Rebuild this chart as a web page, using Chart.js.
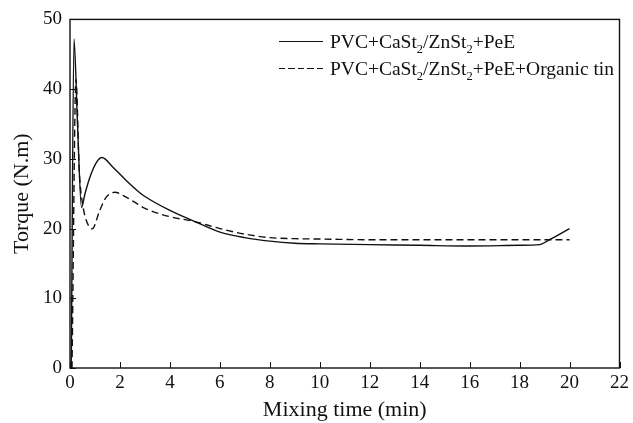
<!DOCTYPE html>
<html>
<head>
<meta charset="utf-8">
<script src="https://cdn.jsdelivr.net/npm/chart.js@4.4.0/dist/chart.umd.min.js"></script>
<style>
  html, body { margin: 0; padding: 0; background: #fff; }
  #wrap { position: relative; width: 633px; height: 423px; }
  #legend {
    position: absolute; left: 279px; top: 28px;
    font-family: "Liberation Serif", "DejaVu Serif", serif; font-size: 19.5px; color: #111;
  }
  #legend .row { display: flex; align-items: center; height: 27px; }
  #legend .line { width: 44px; margin-right: 7px; height: 0; }
  #legend .solid { border-top: 1.4px solid #111; }
  #legend .dash {
    height: 1.4px;
    background: repeating-linear-gradient(90deg, #111 0 6px, transparent 6px 9.5px);
  }
  #legend sub { font-size: 12.5px; vertical-align: -5px; line-height: 0; }
</style>
</head>
<body>
<div id="wrap">
  <canvas id="chart" width="633" height="423"></canvas>
  <div id="legend">
    <div class="row"><span class="line solid"></span><span>PVC+CaSt<sub>2</sub>/ZnSt<sub>2</sub>+PeE</span></div>
    <div class="row"><span class="line dash"></span><span>PVC+CaSt<sub>2</sub>/ZnSt<sub>2</sub>+PeE+Organic tin</span></div>
  </div>
</div>
<script>
/* Torque vs mixing time — two PVC formulations */

const solidTime   = [0.05, 0.16, 0.3, 0.46, 0.6, 0.79, 1.06, 1.28, 1.72, 2.25, 2.71, 3, 4, 5, 6, 7, 8, 9, 10, 12, 14, 16, 18, 18.8, 19.2, 20];
const solidTorque = [0, 47.2, 35, 23.0, 25.0, 27.3, 29.5, 30.2, 28.8, 26.9, 25.4, 24.6, 22.6, 21.0, 19.5, 18.7, 18.2, 17.9, 17.8, 17.7, 17.6, 17.5, 17.6, 17.7, 18.4, 20.0];

const dashTime   = [0.08, 0.24, 0.37, 0.53, 0.66, 0.89, 1.19, 1.45, 1.79, 2.25, 2.71, 3, 4, 5, 6, 7, 8, 9, 10, 12, 14, 16, 18, 20];
const dashTorque = [0, 41.4, 28.3, 23.0, 21.1, 19.95, 22.6, 24.5, 25.2, 24.5, 23.5, 22.9, 21.7, 21.0, 20.0, 19.2, 18.7, 18.55, 18.5, 18.4, 18.4, 18.4, 18.4, 18.4];

const xTicks = [0, 2, 4, 6, 8, 10, 12, 14, 16, 18, 20, 22];
const yTicks = [0, 10, 20, 30, 40, 50];

const serif = '"Liberation Serif", "DejaVu Serif", serif';
const ink = '#111';

function toPoints(xs, ys) {
  return xs.map((x, i) => ({ x, y: ys[i] }));
}

// frame around the plot + inward tick marks
const frameTicks = {
  id: 'frameTicks',
  afterDraw(chart) {
    const { ctx, chartArea: a, scales } = chart;
    ctx.save();
    ctx.strokeStyle = ink;
    ctx.lineWidth = 1.4;
    ctx.strokeRect(a.left, a.top, a.right - a.left, a.bottom - a.top);
    ctx.lineWidth = 1;
    ctx.beginPath();
    xTicks.forEach((v) => {
      const px = Math.round(scales.x.getPixelForValue(v)) + 0.5;
      ctx.moveTo(px, a.bottom);
      ctx.lineTo(px, a.bottom - 6);
    });
    yTicks.forEach((v) => {
      const py = Math.round(scales.y.getPixelForValue(v)) + 0.5;
      ctx.moveTo(a.left, py);
      ctx.lineTo(a.left + 6, py);
    });
    ctx.stroke();
    ctx.restore();
  },
};

new Chart(document.getElementById('chart'), {
  type: 'line',
  data: {
    datasets: [
      {
        label: 'PVC+CaSt2/ZnSt2+PeE',
        data: toPoints(solidTime, solidTorque),
        borderColor: ink,
        borderWidth: 1.4,
        pointRadius: 0,
        cubicInterpolationMode: 'monotone',
      },
      {
        label: 'PVC+CaSt2/ZnSt2+PeE+Organic tin',
        data: toPoints(dashTime, dashTorque),
        borderColor: ink,
        borderWidth: 1.4,
        borderDash: [7, 4],
        pointRadius: 0,
        cubicInterpolationMode: 'monotone',
      },
    ],
  },
  options: {
    responsive: false,
    animation: false,
    layout: { padding: { top: 18, right: 9, left: 0, bottom: 0 } },
    plugins: { legend: { display: false }, tooltip: { enabled: false } },
    scales: {
      x: {
        type: 'linear',
        min: 0,
        max: 22,
        afterBuildTicks: (s) => { s.ticks = xTicks.map((v) => ({ value: v })); },
        afterFit: (s) => { s.height = 55; },
        grid: { display: false, drawTicks: false },
        border: { display: false },
        ticks: { color: ink, font: { family: serif, size: 19 }, padding: 4, maxRotation: 0 },
        title: { display: true, text: 'Mixing time (min)', color: ink, font: { family: serif, size: 22 }, padding: { top: 0, bottom: 0 } },
      },
      y: {
        min: 0,
        max: 50,
        afterBuildTicks: (s) => { s.ticks = yTicks.map((v) => ({ value: v })); },
        afterFit: (s) => { s.width = 70; },
        grid: { display: false, drawTicks: false },
        border: { display: false },
        ticks: { color: ink, font: { family: serif, size: 19 }, padding: 8 },
        title: { display: true, text: 'Torque (N.m)', color: ink, font: { family: serif, size: 22 }, padding: { top: 9, bottom: 0 } },
      },
    },
  },
  plugins: [frameTicks],
});
</script>
</body>
</html>
